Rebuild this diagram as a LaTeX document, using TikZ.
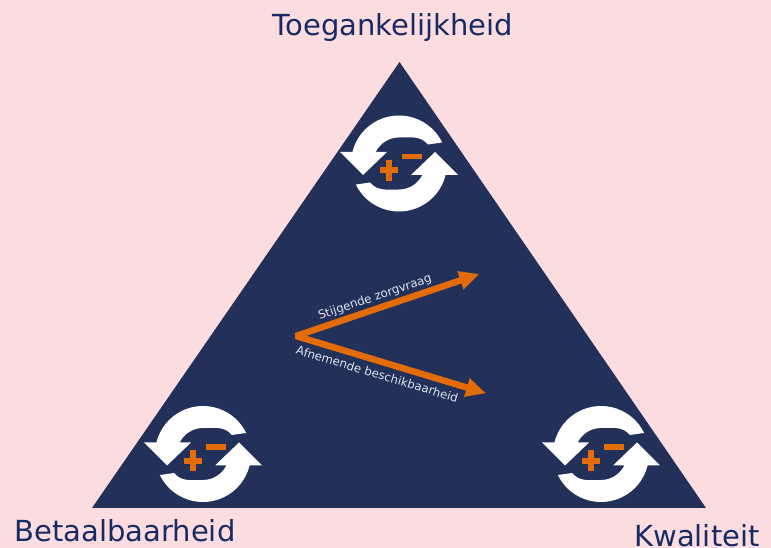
\documentclass[tikz,border=0pt]{standalone}
\usepackage{fontspec}
\setmainfont{DejaVu Sans}
\usetikzlibrary{arrows.meta}
\definecolor{bgpink}{RGB}{252,221,223}
\definecolor{navy}{RGB}{34,48,90}
\definecolor{labelblue}{RGB}{24,42,100}
\definecolor{accentorange}{RGB}{227,108,10}
\definecolor{lighttext}{RGB}{225,226,236}
\tikzset{
  bigLabel/.style={anchor=base, text=labelblue, font=\fontsize{29}{31}\selectfont, inner sep=0pt},
  arrowLabel/.style={text=lighttext, font=\fontsize{11.8}{13}\selectfont, inner sep=0pt},
  orangeArrow/.style={draw=accentorange, line width=6.5pt, line join=bevel,
    {Triangle[length=20pt,width=18pt]}-{Triangle[length=20pt,width=18pt]}},
  cycleicon/.pic={
    \foreach \r in {0,180}{
      \fill[white, rotate=\r] (26:48pt) arc[start angle=26,end angle=166.14,radius=48pt]
        -- (-59pt,11.5pt) -- (-36pt,-11.5pt) -- (-12pt,11.5pt) -- (153.75:26pt)
        arc[start angle=153.75,end angle=90,radius=26pt]
        to[out=0,in=130] (29pt,19pt) -- cycle;
    }
    \fill[accentorange] (-19pt,-10pt) rectangle (-1pt,-4pt);
    \fill[accentorange] (-13.25pt,-17.5pt) rectangle (-6.75pt,3.5pt);
    \fill[accentorange] (2.7pt,4.2pt) rectangle (22.7pt,9.5pt);
  }
}
\begin{document}
\begin{tikzpicture}[x=1pt,y=1pt]
  \useasboundingbox (0,0) rectangle (771,548);
  \fill[bgpink] (0,0) rectangle (771,548);
  % triangle
  \coordinate (cornerTop) at (399.5,486);
  \coordinate (cornerLeft) at (92,40);
  \coordinate (cornerRight) at (706,40);
  \fill[navy] (cornerLeft) -- (cornerTop) -- (cornerRight) -- cycle;
  % icons
  \pic (iconTop) at (399,384.5) {cycleicon};
  \pic (iconLeft) at (203,94) {cycleicon};
  \pic (iconRight) at (601,94) {cycleicon};
  % corner labels
  \node[bigLabel] (lblTop) at (392.7,512) {Toegankelijkheid};
  \node[bigLabel] (lblLeft) at (125,6.3) {Betaalbaarheid};
  \node[bigLabel] (lblRight) at (697,1) {Kwaliteit};
  % orange arrows
  \coordinate (vtx) at (296,212);
  \coordinate (tipUp) at (479.3,274);
  \coordinate (tipDown) at (486,154.7);
  \draw[orangeArrow] (tipUp) -- (vtx) -- (tipDown);
  \node[arrowLabel, rotate=18.7] (lblUp) at (375,250.5) {Stijgende zorgvraag};
  \node[arrowLabel, rotate=-16.8] (lblDown) at (377.3,174) {Afnemende beschikbaarheid};
\end{tikzpicture}
\end{document}
